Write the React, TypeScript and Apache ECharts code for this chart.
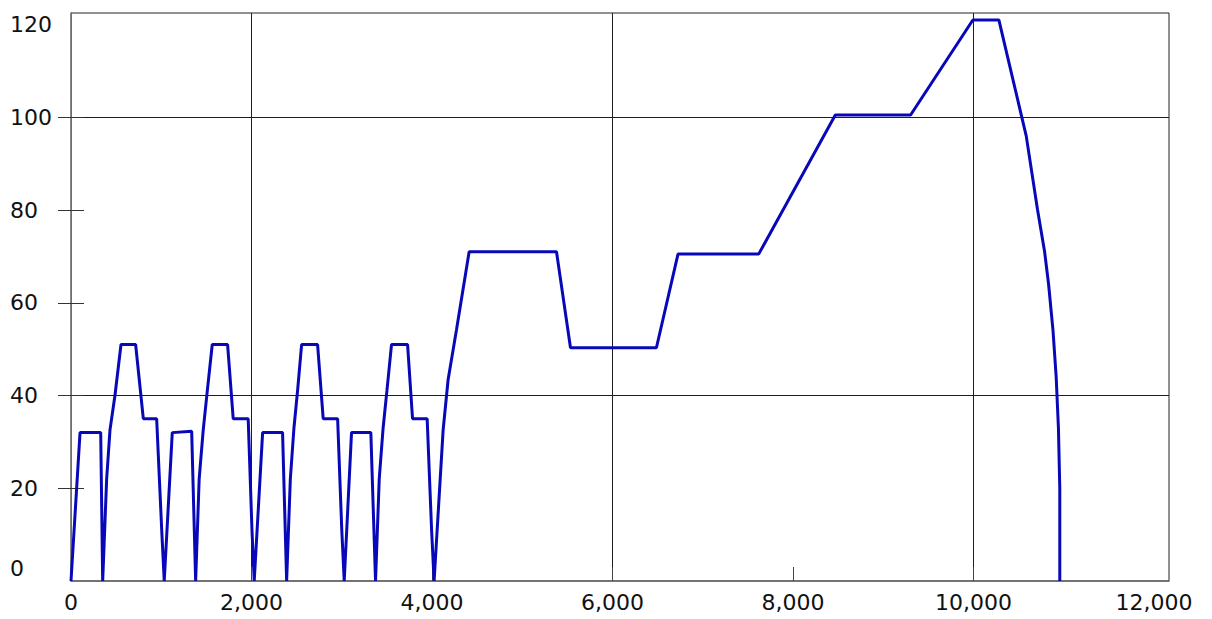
import React, { useEffect, useRef } from "react";
import * as echarts from "echarts";

// Distance (m) along the cycle
const distance = [
  0, 100, 329, 351, 395, 432, 487, 554, 716, 801, 949, 1005, 1033,
  1122, 1337, 1381, 1420, 1465, 1510, 1565, 1735, 1797, 1963, 2005, 2030,
  2123, 2344, 2389, 2430, 2470, 2510, 2555, 2732, 2794, 2954, 3000, 3027,
  3108, 3322, 3374, 3415, 3458, 3500, 3551, 3729, 3784, 3946, 3995, 4023,
  4123, 4178, 4271, 4411, 5379, 5534, 6486, 6725, 7619, 8468, 9302, 9992,
  10280, 10583, 10709, 10787, 10831, 10880, 10915, 10940, 10955, 10955,
];
// Speed (km/h)
const speed = [
  0, 32, 32, 0, 22, 32.6, 40, 51, 51, 35, 35, 11, 0,
  32, 32.3, 0, 22, 32.6, 41, 51, 51, 35, 35, 11, 0,
  32, 32, 0, 22, 33, 41, 51, 51, 35, 35, 11, 0,
  32, 32, 0, 22, 33, 41, 51, 51, 35, 35, 11, 0,
  32.6, 43.4, 54.2, 71, 71, 50.3, 50.3, 70.5, 70.5, 100.5, 100.5, 121,
  121, 96, 80, 71, 64, 54, 44, 33, 20, 0,
];

const xTickValues = [0, 2000, 4000, 6000, 8000, 10000, 12000];
const yTickValues = [0, 20, 40, 60, 80, 100, 120];
const xInnerTicks = [2000, 4000, 6000, 8000, 10000];
const yInnerTicks = [20, 40, 60, 80, 100];

const X_MAX = 12165;
const Y_MAX = 122.5;

export default function App() {
  const ref = useRef<HTMLDivElement>(null);

  useEffect(() => {
    if (!ref.current) return;
    const chart = echarts.init(ref.current, undefined, { renderer: "svg" });
    const data = distance.map((d, i) => [d, speed[i]]);
    const font = "DejaVu Sans";
    const T = "rgba(0,0,0,0)";
    const G = "#1e1e1e";

    chart.setOption({
      animation: false,
      backgroundColor: "#ffffff",
      grid: {
        left: 71,
        right: 43,
        top: 13,
        bottom: 38,
        show: true,
        borderColor: "#222",
        borderWidth: 1,
        backgroundColor: "transparent",
      },
      xAxis: [
        {
          type: "value",
          min: 0,
          max: X_MAX,
          interval: 2000,
          position: "bottom",
          axisLine: { show: true, lineStyle: { color: "#6a6a6a", width: 1.5 } },
          axisTick: { show: false },
          axisLabel: {
            color: "#111",
            fontFamily: font,
            fontSize: 22,
            margin: 10,
            formatter: (v: number) =>
              xTickValues.includes(v) ? v.toLocaleString("en-US") : "",
          },
          splitLine: {
            show: true,
            lineStyle: { color: [T, G, T, G, T, G, T, T], width: 1 },
          },
        },
        {
          type: "value",
          min: 0,
          max: X_MAX,
          position: "bottom",
          axisLine: { show: false },
          axisLabel: { show: false },
          splitLine: { show: false },
          axisTick: {
            show: true,
            inside: true,
            length: 14,
            customValues: xInnerTicks,
            lineStyle: { color: "#444", width: 1 },
          },
        },
      ],
      yAxis: [
        {
          type: "value",
          min: 0,
          max: Y_MAX,
          interval: 20,
          position: "left",
          axisLine: { show: true, lineStyle: { color: "#222", width: 1 } },
          axisTick: { show: false },
          axisLabel: {
            color: "#111",
            fontFamily: font,
            fontSize: 22,
            align: "left",
            margin: 61,
            formatter: (v: number) =>
              v === 0 ? "{z|0}" : yTickValues.includes(v) ? String(v) : "",
            rich: {
              z: {
                color: "#111",
                fontFamily: font,
                fontSize: 22,
                padding: [0, 0, 26, 0],
              },
            },
          },
          splitLine: {
            show: true,
            lineStyle: { color: [T, T, G, T, T, G, T, T], width: 1 },
          },
        },
        {
          type: "value",
          min: 0,
          max: Y_MAX,
          position: "right",
          axisLine: { show: true, lineStyle: { color: "#888", width: 1.5 } },
          axisLabel: { show: false },
          splitLine: { show: false },
          axisTick: {
            show: true,
            inside: true,
            length: 13,
            customValues: yInnerTicks,
            lineStyle: { color: "#333", width: 1 },
          },
        },
        {
          type: "value",
          min: 0,
          max: Y_MAX,
          position: "left",
          axisLine: { show: false },
          axisLabel: { show: false },
          splitLine: { show: false },
          axisTick: {
            show: true,
            inside: true,
            length: 13,
            customValues: yInnerTicks,
            lineStyle: { color: "#333", width: 1 },
          },
        },
      ],
      series: [
        {
          type: "line",
          data,
          xAxisIndex: 0,
          yAxisIndex: 0,
          showSymbol: false,
          symbol: "none",
          lineStyle: { color: "#0808b8", width: 3 },
          z: 5,
        },
      ],
    });

    return () => chart.dispose();
  }, []);

  return (
    <div
      ref={ref}
      style={{
        position: "fixed",
        left: 0,
        top: 0,
        width: 1212,
        height: 619,
        background: "#fff",
      }}
    />
  );
}
